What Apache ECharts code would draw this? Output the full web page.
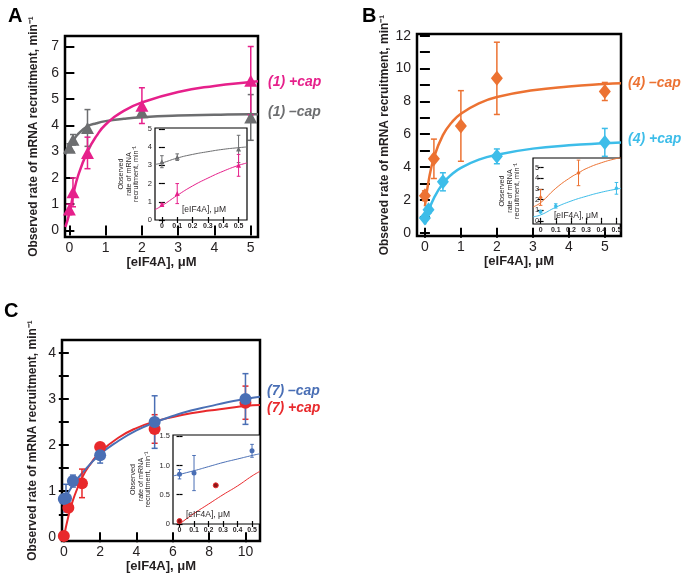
<!DOCTYPE html>
<html>
<head>
<meta charset="utf-8">
<script src="https://cdn.jsdelivr.net/npm/echarts@6/dist/echarts.min.js"></script>
<style>
html, body { margin: 0; padding: 0; background: #fff; }
#main { width: 688px; height: 576px; }
</style>
</head>
<body>
<div id="main"></div>
<script>
// ---- values: [eIF4A] (uM), rate (min-1), error ----
// panel A, construct (1)
var a_plus_pts  = [[0, 0.8, 0.2], [0.1, 1.45, 0.55], [0.5, 2.95, 0.6], [2, 4.75, 0.68], [5, 5.7, 1.3]];
var a_minus_pts = [[0, 3.15, 0.15], [0.1, 3.45, 0.2], [0.5, 3.9, 0.7], [2, 4.5, 0.15], [5, 4.3, 0.87]];
var a_plus_fit  = [[-0.11, 0.13], [0, 0.65], [0.1, 1.32], [0.25, 2.12], [0.5, 3.0], [0.75, 3.6], [1, 4.03], [1.5, 4.55], [2, 4.87], [3, 5.27], [4, 5.5], [5, 5.65], [5.2, 5.68]];
var a_minus_fit = [[-0.12, 2.9], [0, 3.13], [0.1, 3.4], [0.25, 3.68], [0.5, 3.96], [0.75, 4.08], [1, 4.16], [1.5, 4.25], [2, 4.31], [3, 4.37], [4, 4.4], [5, 4.42], [5.2, 4.42]];
var a_in_plus_pts  = [[0, 0.85, 0.07], [0.1, 1.45, 0.55], [0.5, 3.0, 0.6]];
var a_in_minus_pts = [[0, 3.2, 0.33], [0.1, 3.45, 0.18], [0.5, 3.9, 0.75]];
var a_in_plus_fit  = [[-0.045, 0.57], [0, 0.78], [0.1, 1.35], [0.2, 1.87], [0.3, 2.3], [0.4, 2.68], [0.5, 3.0], [0.555, 3.13]];
var a_in_minus_fit = [[-0.045, 3.05], [0, 3.13], [0.1, 3.4], [0.2, 3.6], [0.3, 3.75], [0.4, 3.88], [0.5, 3.97], [0.555, 4.01]];

// panel B, construct (4)
var b_minus_pts = [[0, 2.25, 0.3], [0.25, 4.5, 1.2], [1, 6.5, 2.15], [2, 9.4, 2.2], [5, 8.6, 0.55]];
var b_plus_pts  = [[0, 0.9, 0.1], [0.1, 1.4, 0.2], [0.5, 3.1, 0.55], [2, 4.65, 0.45], [5, 5.5, 0.85]];
var b_minus_fit = [[0, 1.6], [0.1, 3.12], [0.25, 4.56], [0.5, 5.94], [0.75, 6.73], [1, 7.25], [1.5, 7.88], [2, 8.26], [3, 8.67], [4, 8.9], [5, 9.05], [5.45, 9.1]];
var b_plus_fit  = [[0, 0.5], [0.1, 1.28], [0.25, 2.11], [0.5, 3.0], [0.75, 3.56], [1, 3.95], [1.5, 4.45], [2, 4.75], [3, 5.12], [4, 5.32], [5, 5.45], [5.45, 5.5]];
var b_in_minus_pts = [[0, 2.2, 0.75], [0.25, 4.5, 1.2]];
var b_in_plus_pts  = [[0, 0.85, 0.1], [0.1, 1.4, 0.2], [0.5, 3.05, 0.55]];
var b_in_minus_fit = [[-0.05, 1.3], [0, 1.7], [0.1, 3.05], [0.2, 4.1], [0.25, 4.5], [0.3, 4.9], [0.4, 5.45], [0.5, 5.85], [0.53, 5.93]];
var b_in_plus_fit  = [[-0.05, 0.38], [0, 0.55], [0.1, 1.27], [0.2, 1.85], [0.3, 2.3], [0.4, 2.68], [0.5, 2.98], [0.53, 3.05]];

// panel C, construct (7)
var c_minus_pts = [[0, 0.83, 0.08], [0.12, 0.85, 0.3], [0.5, 1.22, 0.13], [2, 1.78, 0.17], [5, 2.5, 0.57], [10, 3.0, 0.55]];
var c_plus_pts  = [[0, 0.03, 0], [0.25, 0.64, 0], [1, 1.17, 0.31], [2, 1.96, 0.05], [5, 2.35, 0.31], [10, 2.92, 0.36]];
var c_minus_fit = [[-0.1, 0.73], [0, 0.8], [0.25, 0.97], [0.5, 1.13], [1, 1.39], [2, 1.8], [3, 2.09], [4, 2.32], [5, 2.49], [6, 2.63], [7, 2.75], [8, 2.84], [9, 2.93], [10, 3.0], [10.8, 3.05]];
var c_plus_fit  = [[0, 0], [0.25, 0.45], [0.5, 0.8], [1, 1.29], [1.5, 1.61], [2, 1.85], [3, 2.16], [4, 2.37], [5, 2.51], [6, 2.61], [7, 2.69], [8, 2.75], [9, 2.8], [10, 2.85], [10.8, 2.87]];
var c_in_minus_pts = [[0, 0.85, 0.08], [0.1, 0.87, 0.3], [0.5, 1.25, 0.11]];
var c_in_plus_pts  = [[0, 0.05, 0], [0.25, 0.66, 0]];
var c_in_minus_fit = [[-0.045, 0.82], [0.1, 0.91], [0.2, 0.98], [0.3, 1.05], [0.4, 1.11], [0.5, 1.17], [0.555, 1.2]];
var c_in_plus_fit  = [[0, 0], [0.1, 0.18], [0.2, 0.34], [0.3, 0.5], [0.4, 0.65], [0.5, 0.82], [0.555, 0.9]];

// tick values
var ticks_0_5 = [0, 1, 2, 3, 4, 5];
var ticks_0_7 = [0, 1, 2, 3, 4, 5, 6, 7];
var ticks_inset_x = [0, 0.1, 0.2, 0.3, 0.4, 0.5];
var b_yticks = [0, 1, 2, 3, 4, 5, 6, 7, 8, 9, 10, 11, 12];
var b_ylabels = [0, 2, 4, 6, 8, 10, 12];
var c_xticks = [0, 2, 4, 6, 8, 10];
var c_yticks = [0, 0.5, 1, 1.5, 2, 2.5, 3, 3.5, 4];
var c_ylabels = [0, 1, 2, 3, 4];
var c_in_yticks = [0, 0.5, 1, 1.5];

var FONT = '"Liberation Sans", Arial, sans-serif';
var YTITLE = 'Observed rate of mRNA recruitment, min\u207B\u00B9';
var YTITLE_IN = 'Observed\nrate of mRNA\nrecruitment, min\u207B\u00B9';
var XTITLE = '[eIF4A], \u03BCM';

var MAGENTA = '#e6208b', GREY = '#6d6e70', ORANGE = '#ec7232', CYAN = '#3dbde9',
    BLUE = '#4a6fb5', RED = '#e8292c', DARKRED = '#8b1717';

var grids = [
    {left: 65, top: 36, width: 193, height: 201, show: true, borderColor: '#000', borderWidth: 2.5, backgroundColor: 'transparent'},
    {left: 155, top: 128, width: 92, height: 92, show: true, borderColor: '#000', borderWidth: 1.2, backgroundColor: '#fff', z: 10},
    {left: 417, top: 34, width: 204, height: 202, show: true, borderColor: '#000', borderWidth: 2.5, backgroundColor: 'transparent'},
    {left: 533, top: 158, width: 88, height: 66, show: true, borderColor: '#000', borderWidth: 1.2, backgroundColor: '#fff', z: 10},
    {left: 62, top: 340, width: 198, height: 201, show: true, borderColor: '#000', borderWidth: 2.5, backgroundColor: 'transparent'},
    {left: 173, top: 435, width: 87, height: 89, show: true, borderColor: '#000', borderWidth: 1.2, backgroundColor: '#fff', z: 10}
];

var xAxes = [], yAxes = [];

function fmt1(v) { return v === 0 ? '0' : String(v); }
function fmtFixed(v) { return v === 0 ? '0' : v.toFixed(1); }

// builds bottom/top x axes and left/right y axes for one framed plot
function addAxes(g, xr, xt, xl, yr, yt, yl, s) {
    var ix = xAxes.length, iy = yAxes.length;
    var tick = function (vals, len) {
        return {show: true, inside: true, length: len, customValues: vals, lineStyle: {color: '#000', width: s.tickW}};
    };
    var base = {type: 'value', gridIndex: g, axisLine: {show: false}, splitLine: {show: false}, z: s.z};
    xAxes.push(Object.assign({}, base, {
        min: xr[0], max: xr[1], position: 'bottom',
        axisTick: tick(xt, s.tick),
        axisLabel: {customValues: xl, formatter: s.xfmt, margin: s.xmargin, fontSize: s.xfs,
            fontWeight: s.xfw, fontFamily: FONT, color: '#231f20'},
        name: s.xname || '', nameLocation: 'middle', nameGap: s.xgap,
        nameTextStyle: {fontSize: 13, fontWeight: 'bold', fontFamily: FONT, color: '#231f20'}
    }));
    xAxes.push(Object.assign({}, base, {
        min: xr[0], max: xr[1], position: 'top',
        axisTick: tick(xt, s.tick), axisLabel: {show: false}
    }));
    yAxes.push(Object.assign({}, base, {
        min: yr[0], max: yr[1], position: 'left',
        axisTick: tick(yt, s.tick),
        axisLabel: {customValues: yl, formatter: s.yfmt, margin: s.ymargin, inside: !!s.yinside,
            fontSize: s.yfs, fontFamily: FONT, color: '#231f20'},
        name: s.yname, nameLocation: 'middle', nameGap: s.ygap, nameRotate: 90,
        nameTextStyle: {fontSize: s.ynfs, fontWeight: s.ynfw, fontFamily: FONT, color: '#231f20',
            lineHeight: s.ynlh}
    }));
    yAxes.push(Object.assign({}, base, {
        min: yr[0], max: yr[1], position: 'right',
        axisTick: tick(yt, s.tick), axisLabel: {show: false}
    }));
    return {x: ix, y: iy};
}

var mainStyle = {tick: 5, tickW: 2, z: 1, xfs: 14, xfw: 'normal', xmargin: 4, yfs: 14, ymargin: 6,
    xname: XTITLE, xgap: 17, yname: YTITLE, ygap: 24, ynfs: 12, ynfw: 'bold', ynlh: 14};
var insetStyle = {tick: 3, tickW: 1.2, z: 11, xfs: 7, xfw: 'bold', xmargin: 3, yfs: 7.5, ymargin: 3,
    xfmt: fmt1, yname: YTITLE_IN, ygap: 14, ynfs: 7.2, ynfw: 'normal', ynlh: 7.5};

var axA = addAxes(0, [-0.12, 5.2], ticks_0_5, ticks_0_5, [-0.25, 7.4], ticks_0_7, ticks_0_7,
    Object.assign({}, mainStyle, {ygap: 24}));
var axAi = addAxes(1, [-0.045, 0.555], ticks_inset_x, ticks_inset_x, [0, 5.05], ticks_0_5, ticks_0_5,
    Object.assign({}, insetStyle, {ygap: 15}));
var axB = addAxes(2, [-0.22, 5.45], ticks_0_5, ticks_0_5, [-0.2, 12.1], b_yticks, b_ylabels,
    Object.assign({}, mainStyle, {ygap: 18}));
var axBi = addAxes(3, [-0.05, 0.53], ticks_inset_x, ticks_inset_x, [-0.3, 5.9], ticks_0_5, ticks_0_5,
    Object.assign({}, insetStyle, {yinside: true, ymargin: 2, ygap: 12}));
var axC = addAxes(4, [-0.1, 10.8], c_xticks, c_xticks, [-0.08, 4.28], c_yticks, c_ylabels,
    Object.assign({}, mainStyle, {ygap: 22}));
var axCi = addAxes(5, [-0.045, 0.555], ticks_inset_x, ticks_inset_x, [0, 1.52], c_in_yticks, c_in_yticks,
    Object.assign({}, insetStyle, {yfmt: fmtFixed, ygap: 21}));

function errBar(color, lw, cap) {
    return function (params, api) {
        var x = api.value(0), y = api.value(1), e = api.value(2);
        if (!e) { return null; }
        var hi = api.coord([x, y + e]), lo = api.coord([x, y - e]);
        var st = {stroke: color, lineWidth: lw};
        return {type: 'group', children: [
            {type: 'line', shape: {x1: hi[0], y1: hi[1], x2: lo[0], y2: lo[1]}, style: st},
            {type: 'line', shape: {x1: hi[0] - cap, y1: hi[1], x2: hi[0] + cap, y2: hi[1]}, style: st},
            {type: 'line', shape: {x1: lo[0] - cap, y1: lo[1], x2: lo[0] + cap, y2: lo[1]}, style: st}
        ]};
    };
}

var series = [];
function addSet(ax, fit, pts, color, symbol, size, o) {
    o = o || {};
    var z = o.z || 2;
    series.push({type: 'line', xAxisIndex: ax.x, yAxisIndex: ax.y, data: fit, smooth: 0.5,
        symbol: 'none', lineStyle: {color: color, width: o.lw || 2.5}, z: z, silent: true});
    series.push({type: 'custom', xAxisIndex: ax.x, yAxisIndex: ax.y, data: pts, z: z + 1, silent: true,
        encode: {x: 0, y: 1}, renderItem: errBar(color, o.elw || 1.5, o.cap || 3)});
    series.push({type: 'scatter', xAxisIndex: ax.x, yAxisIndex: ax.y, data: pts, symbol: symbol,
        symbolSize: size, z: z + 2, silent: true,
        itemStyle: {color: o.fill || color, borderColor: color, borderWidth: o.bw || 0, opacity: 1}});
}

var inset = {z: 12, lw: 1, elw: 1, cap: 1.8};
addSet(axA, a_minus_fit, a_minus_pts, GREY, 'triangle', [13, 12]);
addSet(axA, a_plus_fit, a_plus_pts, MAGENTA, 'triangle', [13, 12]);
addSet(axAi, a_in_minus_fit, a_in_minus_pts, GREY, 'triangle', [5, 5], inset);
addSet(axAi, a_in_plus_fit, a_in_plus_pts, MAGENTA, 'triangle', [5, 5], inset);

addSet(axB, b_minus_fit, b_minus_pts, ORANGE, 'diamond', [12, 15]);
addSet(axB, b_plus_fit, b_plus_pts, CYAN, 'diamond', [12, 15]);
addSet(axBi, b_in_minus_fit, b_in_minus_pts, ORANGE, 'diamond', [4, 5], inset);
addSet(axBi, b_in_plus_fit, b_in_plus_pts, CYAN, 'diamond', [4, 5], inset);

addSet(axC, c_plus_fit, c_plus_pts, RED, 'circle', 12, {lw: 2});
addSet(axC, c_minus_fit, c_minus_pts, BLUE, 'circle', 12, {lw: 2});
addSet(axCi, c_in_minus_fit, c_in_minus_pts, BLUE, 'circle', 5, inset);
addSet(axCi, c_in_plus_fit, c_in_plus_pts, RED, 'circle', 5,
    Object.assign({}, inset, {fill: DARKRED, bw: 1}));

function label(text, x, y, color, size, style) {
    return {type: 'text', x: x, y: y, z: 20, silent: true,
        style: {text: text, fill: color, font: (style || '') + ' ' + size + 'px ' + FONT,
            textVerticalAlign: 'middle', textAlign: 'left'}};
}
function centred(text, x, y, size) {
    return {type: 'text', x: x, y: y, z: 20, silent: true,
        style: {text: text, fill: '#231f20', font: size + 'px ' + FONT,
            textVerticalAlign: 'middle', textAlign: 'center'}};
}

var graphics = [
    label('A', 8, 16, '#000', 20, 'bold'),
    label('B', 362, 16, '#000', 20, 'bold'),
    label('C', 4, 311, '#000', 20, 'bold'),
    label('(1) +cap', 268, 82, MAGENTA, 14, 'italic bold'),
    label('(1) \u2013cap', 268, 112, GREY, 14, 'italic bold'),
    label('(4) \u2013cap', 628, 83, ORANGE, 14, 'italic bold'),
    label('(4) +cap', 628, 139, CYAN, 14, 'italic bold'),
    label('(7) \u2013cap', 267, 391, BLUE, 14, 'italic bold'),
    label('(7) +cap', 267, 408, RED, 14, 'italic bold'),
    centred(XTITLE, 204, 210, 8.5),
    centred(XTITLE, 576, 216, 8.5),
    centred(XTITLE, 208, 515, 8.5)
];

var myChart = echarts.init(document.getElementById('main'));
myChart.setOption({
    animation: false,
    backgroundColor: '#fff',
    grid: grids,
    xAxis: xAxes,
    yAxis: yAxes,
    series: series,
    graphic: graphics
});
</script>
</body>
</html>
